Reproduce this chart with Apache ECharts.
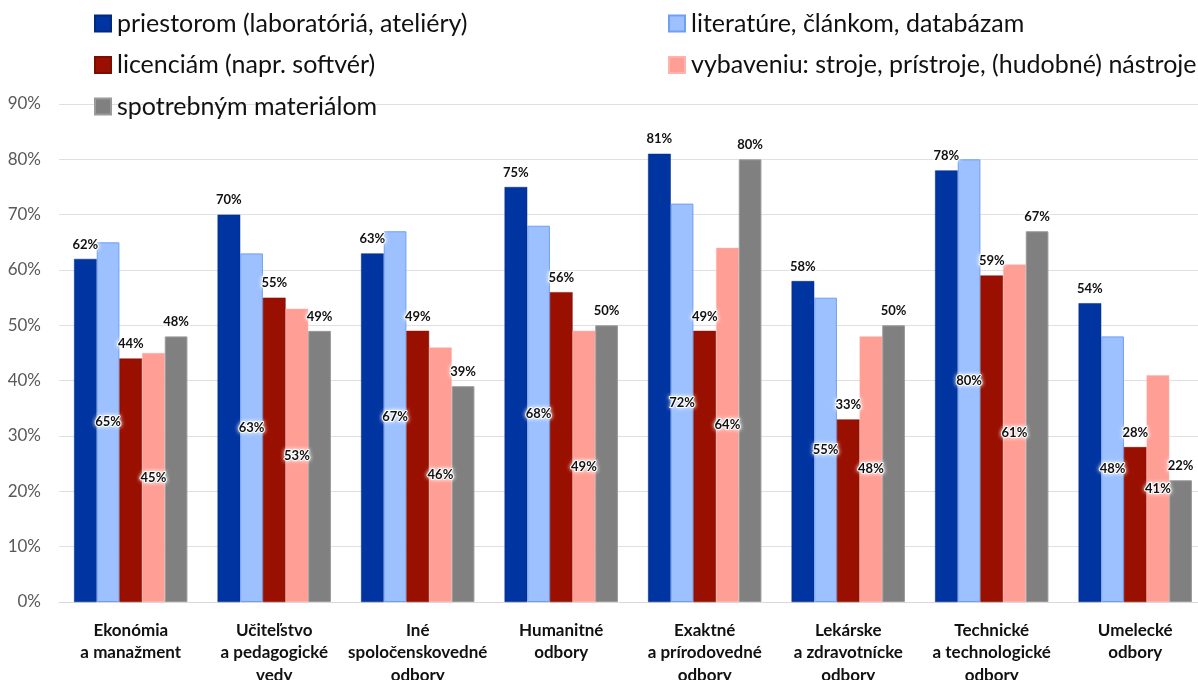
<!DOCTYPE html>
<html>
<head>
<meta charset="utf-8">
<script src="https://cdn.jsdelivr.net/npm/echarts@6/dist/echarts.min.js"></script>
<style>
  html, body { margin: 0; padding: 0; background: #fff; }
  #chart { width: 1198px; height: 680px; }
</style>
</head>
<body>
<div id="chart"></div>
<script>
var categories = [
  'Ekonómia\na manažment',
  'Učiteľstvo\na pedagogické\nvedy',
  'Iné\nspoločenskovedné\nodbory',
  'Humanitné\nodbory',
  'Exaktné\na prírodovedné\nodbory',
  'Lekárske\na zdravotnícke\nodbory',
  'Technické\na technologické\nodbory',
  'Umelecké\nodbory'
];
var seriesNames = [
  'priestorom (laboratóriá, ateliéry)',
  'literatúre, článkom, databázam',
  'licenciám (napr. softvér)',
  'vybaveniu: stroje, prístroje, (hudobné) nástroje',
  'spotrebným materiálom'
];
var priestorom = [62, 70, 63, 75, 81, 58, 78, 54];
var literature = [65, 63, 67, 68, 72, 55, 80, 48];
var licenciam = [44, 55, 49, 56, 49, 33, 59, 28];
var vybaveniu = [45, 53, 46, 49, 64, 48, 61, 41];
var spotrebnym = [48, 49, 39, 50, 80, 50, 67, 22];
var yTicks = { min: 0, max: 90, interval: 10 };

var font = 'Lato';
var colors = ['#0035a1', '#9dc1ff', '#9a1000', '#ff9e94', '#808080'];

var chart = echarts.init(document.getElementById('chart'));

function valueLabel(position) {
  return {
    show: true,
    position: position,
    distance: 8,
    formatter: '{c}%',
    fontFamily: font,
    fontWeight: 'bold',
    fontSize: 13,
    color: '#111',
    textBorderColor: '#fff',
    textBorderWidth: 2,
    textShadowColor: 'rgba(255,255,255,0.9)',
    textShadowBlur: 4
  };
}

function legendBox(left, names) {
  return {
    orient: 'vertical',
    left: left,
    top: 11,
    padding: 0,
    itemWidth: 16,
    itemHeight: 16,
    itemGap: 16.5,
    icon: 'rect',
    selectedMode: false,
    textStyle: {
      fontFamily: font,
      fontSize: 25,
      lineHeight: 25,
      color: '#111',
      padding: [0, 0, 0, 1]
    },
    data: names
  };
}

var option = {
  color: colors,
  animation: false,
  legend: [
    legendBox(94, [seriesNames[0], seriesNames[2], seriesNames[4]]),
    legendBox(668, [seriesNames[1], seriesNames[3]])
  ],
  grid: {
    left: 59,
    right: -9,
    top: 104,
    bottom: 78,
    containLabel: false,
    outerBoundsMode: 'none'
  },
  xAxis: {
    type: 'category',
    data: categories,
    axisTick: { show: false },
    axisLine: { lineStyle: { color: '#d9d9d9', width: 1 } },
    axisLabel: {
      interval: 0,
      margin: 17,
      fontFamily: font,
      fontWeight: 'bold',
      fontSize: 17,
      lineHeight: 22.5,
      color: '#111'
    }
  },
  yAxis: {
    type: 'value',
    min: yTicks.min,
    max: yTicks.max,
    interval: yTicks.interval,
    axisLine: { show: false },
    axisTick: { show: false },
    axisLabel: {
      formatter: '{value}%',
      margin: 18,
      fontFamily: font,
      fontSize: 17,
      color: '#595959'
    },
    splitLine: { lineStyle: { color: '#e0e0e0', width: 1 } }
  },
  series: [
    {
      name: seriesNames[0],
      type: 'bar',
      barGap: '0%',
      barCategoryGap: '21%',
      itemStyle: { borderColor: '#00297f', borderWidth: 0.5 },
      label: valueLabel('top'),
      data: priestorom
    },
    {
      name: seriesNames[1],
      type: 'bar',
      itemStyle: { borderColor: '#6f9ff5', borderWidth: 1 },
      label: valueLabel('inside'),
      data: literature
    },
    {
      name: seriesNames[2],
      type: 'bar',
      itemStyle: { borderColor: '#7d0d00', borderWidth: 0.5 },
      label: valueLabel('top'),
      data: licenciam
    },
    {
      name: seriesNames[3],
      type: 'bar',
      itemStyle: { borderColor: '#ffb3ab', borderWidth: 0.5 },
      label: valueLabel('inside'),
      data: vybaveniu
    },
    {
      name: seriesNames[4],
      type: 'bar',
      itemStyle: { borderColor: '#9a9a9a', borderWidth: 1 },
      label: valueLabel('top'),
      data: spotrebnym
    }
  ]
};

chart.setOption(option);
</script>
</body>
</html>
